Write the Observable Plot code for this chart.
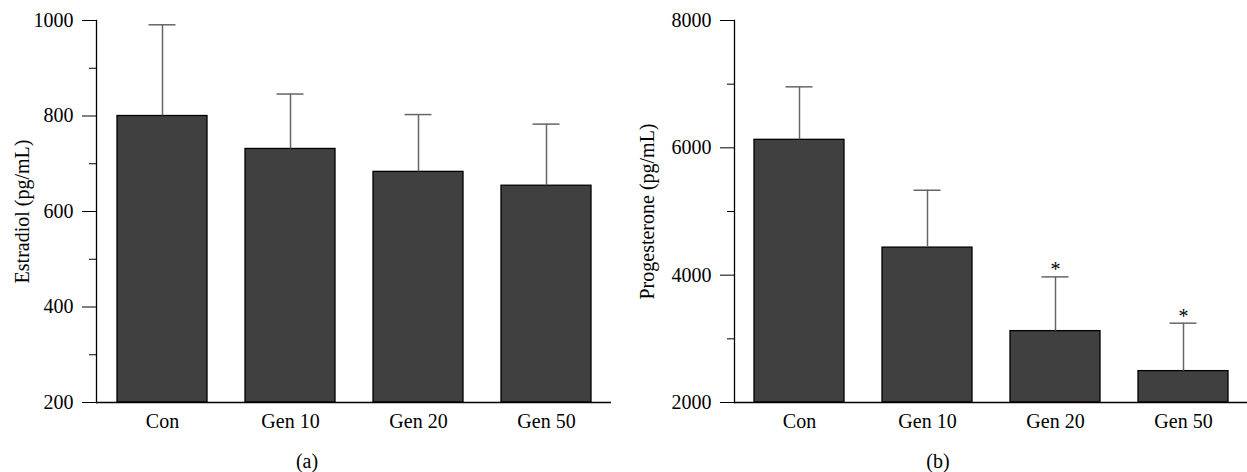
<!DOCTYPE html>
<html>
<head>
<meta charset="utf-8">
<script src="https://cdn.jsdelivr.net/npm/d3@7"></script>
<script src="https://cdn.jsdelivr.net/npm/@observablehq/plot@0.6"></script>
<style>
  html, body { margin: 0; padding: 0; background: #fff; }
  #wrap { position: relative; width: 1247px; height: 472px; overflow: hidden; font-family: "Liberation Serif", serif; }
  #pa { position: absolute; left: 0; top: 0; }
  #pb { position: absolute; left: 620px; top: 0; }
  .cap { position: absolute; top: 449px; font-size: 20px; transform: translateX(-50%); line-height: 24px; }
</style>
</head>
<body>
<div id="wrap">
  <div id="pa"></div>
  <div id="pb"></div>
  <div class="cap" style="left:307px">(a)</div>
  <div class="cap" style="left:938px">(b)</div>
</div>
<script>
const groups = ["Con", "Gen 10", "Gen 20", "Gen 50"];
const estradiolMean = [800, 731, 683, 654];
const estradiolUpper = [991, 846, 803, 783];
const progesteroneMean = [6126, 4433, 3121, 2493];
const progesteroneUpper = [6958, 5334, 3973, 3246];
const progesteroneStar = [false, false, true, true];

const aTicks = [200, 400, 600, 800, 1000];
const aMinor = [300, 500, 700, 900];
const bTicks = [2000, 4000, 6000, 8000];
const bMinor = [3000, 5000, 7000];

function panel({means, uppers, stars, domain, ticks, minor, label, width, marginLeft, marginRight, labelDx}) {
  const data = groups.map((g, i) => ({g, mean: means[i], upper: uppers[i], star: stars ? stars[i] : false}));
  return Plot.plot({
    width, height: 445,
    marginLeft, marginRight, marginTop: 20, marginBottom: 43,
    style: {fontFamily: "Liberation Serif, serif", fontSize: "20px", color: "#000", background: "transparent", overflow: "visible"},
    x: {domain: groups, paddingInner: 0.3, paddingOuter: 0.15, axis: null},
    y: {domain, axis: null},
    marks: [
      Plot.barY(data, {x: "g", y1: domain[0], y2: "mean", fill: "#404040", stroke: "#000", strokeWidth: 1.3}),
      Plot.ruleX(data, {x: "g", y1: "mean", y2: "upper", stroke: "#666", strokeWidth: 1.5}),
      Plot.tickY(data, {x: "g", y: "upper", stroke: "#666", strokeWidth: 1.5, insetLeft: 31.5, insetRight: 31.5}),
      Plot.text(data.filter(d => d.star), {x: "g", y: "upper", text: () => "*", dy: -7, fontSize: 20, fill: "#000"}),
      Plot.axisX({tickSize: 0, tickPadding: 11, label: null, fontSize: 20}),
      Plot.axisY({ticks, tickSize: 14, tickPadding: 9, tickFormat: d => String(d), label: null, fontSize: 20}),
      Plot.axisY({ticks: minor, tickSize: 7, tickFormat: () => "", label: null}),
      Plot.text([label], {frameAnchor: "left", textAnchor: "middle", lineAnchor: "middle", rotate: -90, dx: labelDx, fontSize: 20, fill: "#000", text: d => d}),
      Plot.frame({anchor: "left", stroke: "#000", strokeWidth: 1.3}),
      Plot.ruleY([domain[0]], {stroke: "#000", strokeWidth: 1.3})
    ]
  });
}

document.getElementById("pa").append(panel({
  means: estradiolMean, uppers: estradiolUpper, domain: [200, 1000],
  ticks: aTicks, minor: aMinor, label: "Estradiol (pg/mL)",
  width: 620, marginLeft: 96, marginRight: 9, labelDx: -74
}));
document.getElementById("pb").append(panel({
  means: progesteroneMean, uppers: progesteroneUpper, stars: progesteroneStar, domain: [2000, 8000],
  ticks: bTicks, minor: bMinor, label: "Progesterone (pg/mL)",
  width: 627, marginLeft: 114, marginRight: 0, labelDx: -87
}));
</script>
</body>
</html>
